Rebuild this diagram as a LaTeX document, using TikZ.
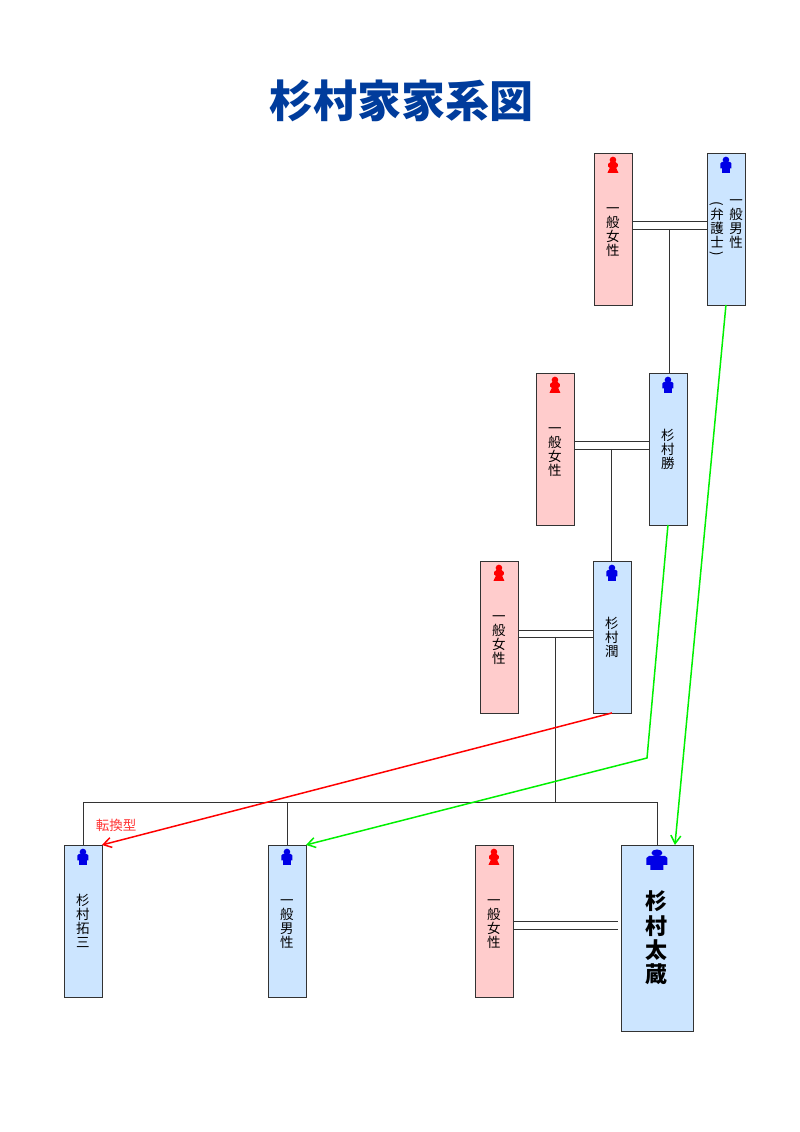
\documentclass[tikz,border=0pt]{standalone}
\usepackage{fontspec}
\setmainfont{Noto Sans CJK JP}
\usetikzlibrary{arrows.meta}
\definecolor{womanpink}{HTML}{FFCCCC}
\definecolor{manblue}{HTML}{CCE5FF}
\definecolor{titleblue}{HTML}{003C9C}
\definecolor{iconblue}{HTML}{0000E6}
\definecolor{linegreen}{HTML}{00F000}
\definecolor{boxline}{HTML}{333333}
\tikzset{
	personbox/.style={draw=boxline, line width=0.8pt, minimum width=38pt, minimum height=152pt, inner sep=0pt, outer sep=0pt, align=center, font=\fontsize{13.5}{14}\selectfont},
	woman/.style={personbox, fill=womanpink},
	man/.style={personbox, fill=manblue},
	tate/.style={inner sep=0pt, align=center, font=\fontsize{13.5}{14}\selectfont},
	kin/.style={draw=boxline, line width=0.7pt},
	adopt/.style={draw=linegreen, line width=1.5pt, -{Straight Barb[length=8pt,width=10pt]}},
	turn/.style={draw=red, line width=1.5pt, -{Straight Barb[length=8pt,width=10pt]}},
	maleicon/.pic={
		\fill (0,-5) circle (3.3pt);
		\path[fill] (-5.5,-1.5) -- (-4,-3) -- (4,-3) -- (5.5,-1.5) -- (5.5,3.5) -- (3.8,3.5) -- (3.8,8) -- (-3.8,8) -- (-3.8,3.5) -- (-5.5,3.5) -- cycle;
	},
	femaleicon/.pic={
		\fill (0,-5) circle (3.3pt);
		\path[fill] (-2.5,-3) -- (2.5,-3) -- (4.8,-1) -- (4.8,1.5) -- (3.2,3) -- (5.5,8) -- (-5.5,8) -- (-3.2,3) -- (-4.8,1.5) -- (-4.8,-1) -- cycle;
	},
	bigicon/.pic={
		\fill (0,-6) ellipse (5.5pt and 3.5pt);
		\path[fill] (-10.5,-1) -- (-8,-3) -- (8,-3) -- (10.5,-1) -- (10.5,6) -- (6.5,6) -- (6.5,11) -- (-6.5,11) -- (-6.5,6) -- (-10.5,6) -- cycle;
	},
}
\newcommand{\paren}[1]{\rotatebox[origin=c]{-90}{#1}}
\newcommand{\topgap}{\rule{0pt}{11.5pt}}
\begin{document}
\begin{tikzpicture}[x=1pt, y=-1pt]
	\useasboundingbox (0,0) rectangle (800,1132);

	\node (title) at (401,101) {\fontsize{44}{44}\selectfont\bfseries\color{titleblue}杉村家家系図};

	% generations
	\node [woman] (w1) at (612.95,228.95) {\topgap 一\\般\\女\\性};
	\node [man] (m1) at (725.95,228.95) {};
	\node [tate] (m1r) at (736,221.5) {\topgap 一\\般\\男\\性};
	\node [tate] (m1l) at (717,230) {\paren{(}\\[-3pt]弁\\護\\士\\[-3pt]\paren{)}};
	\node [woman] (w2) at (554.95,448.95) {\topgap 一\\般\\女\\性};
	\node [man] (m2) at (667.95,448.95) {\topgap 杉\\村\\勝};
	\node [woman] (w3) at (498.95,636.95) {\topgap 一\\般\\女\\性};
	\node [man] (m3) at (611.95,636.95) {\topgap 杉\\村\\潤};
	\node [man] (s1) at (82.95,920.95) {\topgap 杉\\村\\拓\\三};
	\node [man] (s2) at (286.95,920.95) {\topgap 一\\般\\男\\性};
	\node [woman] (w4) at (493.95,920.95) {\topgap 一\\般\\女\\性};
	\node [man, minimum width=72pt, minimum height=186pt, font=\fontsize{22}{24.3}\selectfont\bfseries] (s3) at (656.95,937.95) {杉\\村\\太\\蔵};

	% icons
	\pic [red] at ([yshift=-12pt]w1.north) {femaleicon};
	\pic [iconblue] at ([yshift=-12pt]m1.north) {maleicon};
	\pic [red] at ([yshift=-12pt]w2.north) {femaleicon};
	\pic [iconblue] at ([yshift=-12pt]m2.north) {maleicon};
	\pic [red] at ([yshift=-12pt]w3.north) {femaleicon};
	\pic [iconblue] at ([yshift=-12pt]m3.north) {maleicon};
	\pic [iconblue] at ([yshift=-12pt]s1.north) {maleicon};
	\pic [iconblue] at ([yshift=-12pt]s2.north) {maleicon};
	\pic [red] at ([yshift=-12pt]w4.north) {femaleicon};
	\pic [iconblue] at ([yshift=-14pt]s3.north) {bigicon};

	% couples
	\draw [kin] (w1.east) -- coordinate (c1) (m1.west);
	\draw [kin] ([yshift=8pt]w1.east) -- ([yshift=8pt]m1.west);
	\draw [kin] (w2.east) -- coordinate (c2) (m2.west);
	\draw [kin] ([yshift=8pt]w2.east) -- ([yshift=8pt]m2.west);
	\draw [kin] (w3.east) -- coordinate (c3) (m3.west);
	\draw [kin] ([yshift=7pt]w3.east) -- ([yshift=7pt]m3.west);
	\draw [kin] ([yshift=-8pt]w4.east) -- ([xshift=-3pt,yshift=9pt]s3.west);
	\draw [kin] (w4.east) -- ([xshift=-3pt,yshift=17pt]s3.west);

	% children
	\coordinate (bus) at (c3 |- 0,802.6);
	\draw [kin] (c1) -- (c1 |- m2.north);
	\draw [kin] (c2) -- (c2 |- m3.north);
	\draw [kin] (c3) -- (bus);
	\draw [kin] (s1.north) |- (bus);
	\draw [kin] (s2.north) |- (bus);
	\draw [kin] (s3.north) |- (bus);

	% succession
	\coordinate (bend) at (647,758);
	\draw [adopt] (m1.south) -- ([xshift=18pt]s3.north);
	\draw [adopt] (m2.south) -- (bend) -- (s2.north east);
	\draw [turn] (m3.south) -- (s1.north east);
	\node [text=red!80, font=\fontsize{13.5}{14}\selectfont] (turnlabel) at (116,825) {転換型};
\end{tikzpicture}
\end{document}
